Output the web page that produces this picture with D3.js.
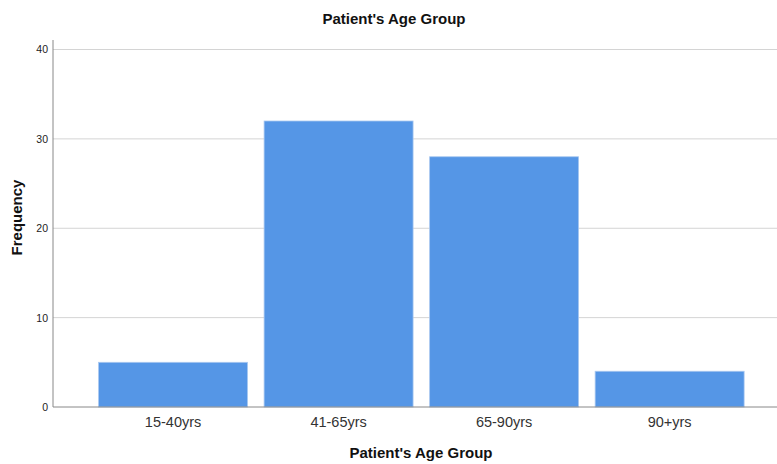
<!DOCTYPE html>
<html><head><meta charset="utf-8">
<script src="https://cdn.jsdelivr.net/npm/d3@7"></script>
<style>body{margin:0;background:#fff}svg{display:block}</style>
</head><body>
<script>
const categories = ["15-40yrs", "41-65yrs", "65-90yrs", "90+yrs"];
const frequencies = [5, 32, 28, 4];
const yTicks = [0, 10, 20, 30, 40];
const chartTitle = "Patient's Age Group";
const xTitle = "Patient's Age Group";
const yTitle = "Frequency";

const W = 777, H = 464;
const plot = {left: 53, right: 777, top: 40, bottom: 407};
const svg = d3.select("body").append("svg").attr("width", W).attr("height", H)
  .style("font-family", "Arial, 'Liberation Sans', sans-serif");

const y = d3.scaleLinear().domain([0, 40]).range([407, 49.5]);
const x = d3.scaleBand().domain(categories).range([90.3, 752.4])
  .paddingInner(0.1).paddingOuter(0.05);

// gridlines
svg.append("g").selectAll("line").data(yTicks.filter(d => d > 0)).join("line")
  .attr("x1", plot.left).attr("x2", plot.right)
  .attr("y1", d => y(d)).attr("y2", d => y(d))
  .attr("stroke", "#d4d4d4").attr("stroke-width", 1);

// bars
svg.append("g").selectAll("rect").data(frequencies).join("rect")
  .attr("x", (d, i) => x(categories[i]))
  .attr("width", x.bandwidth())
  .attr("y", d => y(d))
  .attr("height", d => y(0) - y(d))
  .attr("fill", "#5596e6")
  .attr("stroke", "#a9c8f0").attr("stroke-width", 0.8);

// y axis
const ya = svg.append("g").attr("transform", `translate(${plot.left},0)`)
  .call(d3.axisLeft(y).tickValues(yTicks).tickSize(0).tickPadding(5).tickFormat(d3.format("d")));
ya.select(".domain").attr("stroke", "#888").attr("d", `M0,${plot.top}V${y(0)}`);
ya.selectAll("text").attr("font-size", 10.5).attr("fill", "#222").attr("font-family", "Arial, 'Liberation Sans', sans-serif");

// x axis
const xa = svg.append("g").attr("transform", `translate(0,${y(0)})`)
  .call(d3.axisBottom(x).tickSize(0).tickPadding(10));
xa.select(".domain").attr("stroke", "#888").attr("d", `M${plot.left},0H${plot.right}`);
xa.selectAll("text").attr("font-size", 14.5).attr("fill", "#333").attr("font-family", "Arial, 'Liberation Sans', sans-serif");

// titles
svg.append("text").attr("x", 394).attr("y", 24).attr("text-anchor", "middle")
  .attr("font-size", 15).attr("font-weight", "bold").attr("fill", "#111").text(chartTitle);
svg.append("text").attr("x", 421).attr("y", 458).attr("text-anchor", "middle")
  .attr("font-size", 15).attr("font-weight", "bold").attr("fill", "#111").text(xTitle);
svg.append("text").attr("transform", "translate(22,217.5) rotate(-90)").attr("text-anchor", "middle")
  .attr("font-size", 15).attr("font-weight", "bold").attr("fill", "#111").text(yTitle);
</script>
</body></html>
